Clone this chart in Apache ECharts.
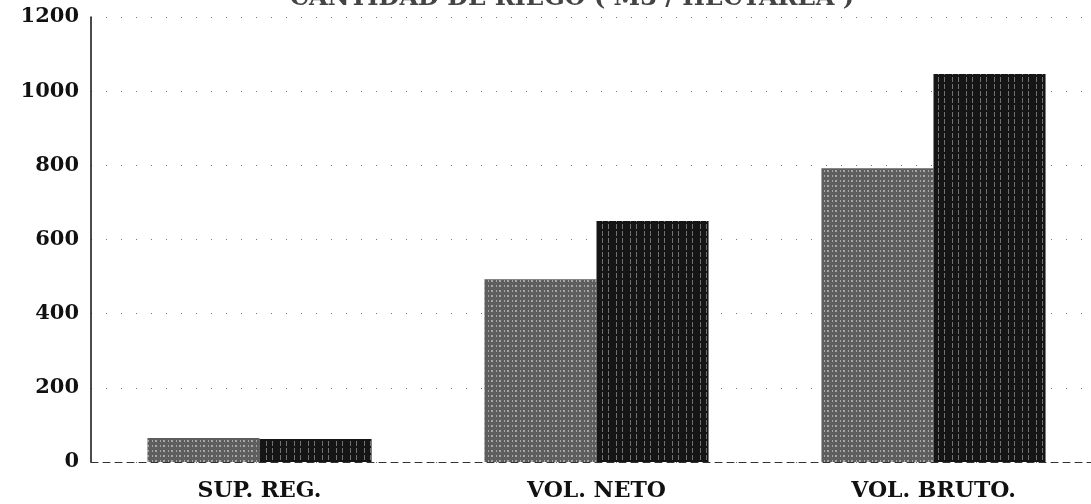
<!DOCTYPE html>
<html>
<head>
<meta charset="utf-8">
<script src="https://cdn.jsdelivr.net/npm/echarts@6/dist/echarts.min.js"></script>
<style>
html,body{margin:0;padding:0;background:#fff;overflow:hidden;}
#chart{width:1102px;height:504px;}
</style>
</head>
<body>
<div id="chart"></div>
<script>
var categories = ['SUP. REG.', 'VOL. NETO', 'VOL. BRUTO.'];
var seriesA = [65, 493, 792];
var seriesB = [62, 650, 1046];
var yTicks = [0, 200, 400, 600, 800, 1000, 1200];
var titleText = 'CANTIDAD DE RIEGO ( M3 / HECTAREA )';

var chart = echarts.init(document.getElementById('chart'));
var labelFont = {fontFamily: 'DejaVu Serif', fontWeight: 'bold', color: '#111'};
chart.setOption({
  animation: false,
  backgroundColor: '#fff',
  title: {
    text: titleText,
    left: 567, top: -18,
    textAlign: 'center',
    textStyle: {fontFamily: 'DejaVu Serif', fontWeight: 'bold', fontSize: 24, color: '#444'}
  },
  grid: {left: 91, top: 17, right: 0, height: 445},
  xAxis: {
    type: 'category',
    data: categories,
    axisLine: {lineStyle: {color: '#333', width: 1, type: [7, 5]}},
    axisTick: {show: false},
    axisLabel: Object.assign({fontSize: 22, margin: 18}, labelFont)
  },
  yAxis: {
    type: 'value',
    min: yTicks[0], max: yTicks[yTicks.length - 1], interval: 200,
    axisLine: {show: true, lineStyle: {color: '#111', width: 1.5}},
    axisTick: {show: false},
    axisLabel: Object.assign({fontSize: 21, margin: 12, formatter: function (v) { return String(v); }}, labelFont),
    splitLine: {lineStyle: {color: '#777', width: 1, type: [1, 14]}}
  },
  series: [
    {
      type: 'bar', data: seriesA, barGap: '0%', barCategoryGap: '33.5%',
      itemStyle: {
        color: '#5e5e5e',
        decal: {symbol: 'rect', symbolSize: 1, color: 'rgba(255,255,255,0.45)', dashArrayX: [[1, 2, 2, 3]], dashArrayY: [2, 3], rotation: 0}
      }
    },
    {
      type: 'bar', data: seriesB,
      itemStyle: {
        color: '#151515',
        decal: {symbol: 'rect', symbolSize: 1, color: 'rgba(255,255,255,0.4)', dashArrayX: [[1, 5, 1, 7]], dashArrayY: [5, 2], rotation: 0}
      }
    }
  ]
});
</script>
</body>
</html>
